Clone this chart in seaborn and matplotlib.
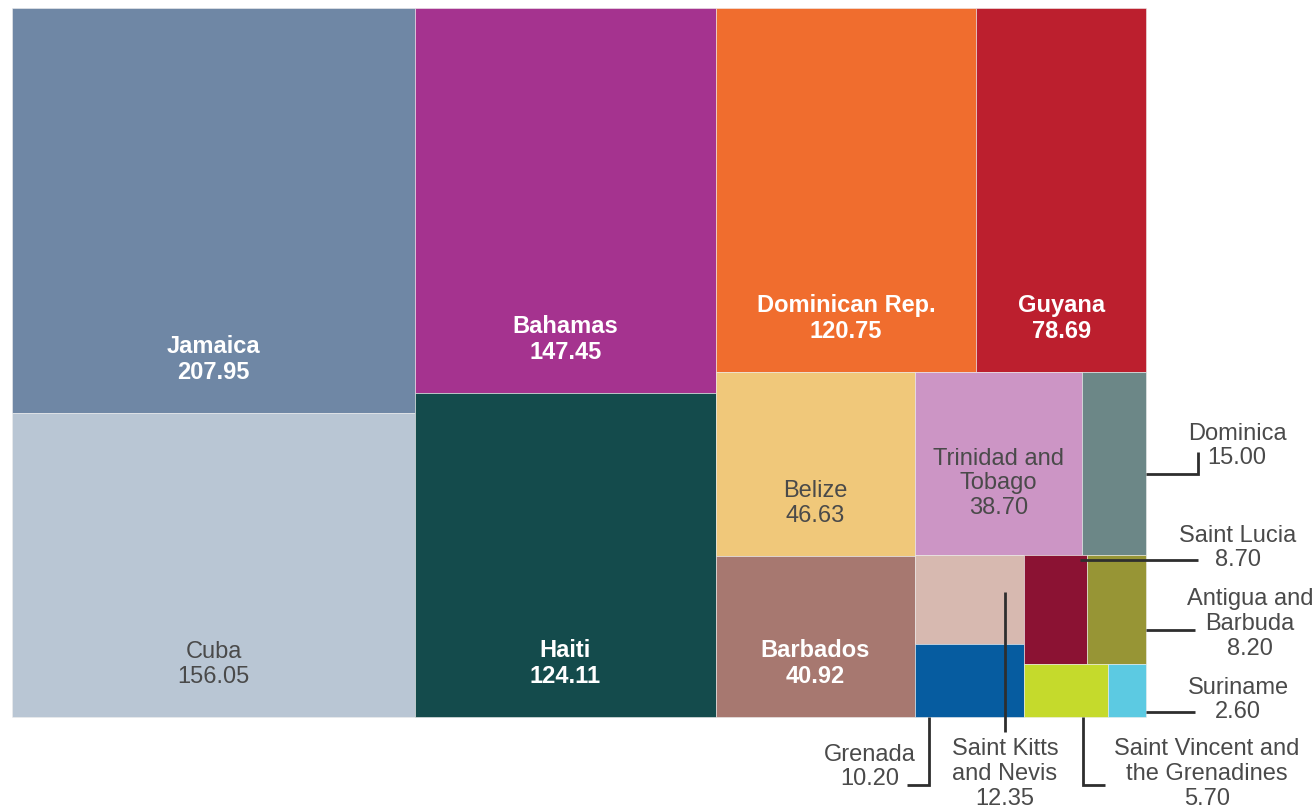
import matplotlib
matplotlib.use("Agg")
import matplotlib.pyplot as plt
from matplotlib.patches import Rectangle
import seaborn as sns

# Values per country (sorted largest first, as laid out in the treemap)
countries = ["Jamaica", "Cuba", "Bahamas", "Haiti", "Dominican Rep.", "Guyana",
             "Belize", "Barbados", "Trinidad and Tobago", "Dominica",
             "Saint Kitts and Nevis", "Grenada", "Saint Lucia", "Antigua and Barbuda",
             "Saint Vincent and the Grenadines", "Suriname"]
values = [207.95, 156.05, 147.45, 124.11, 120.75, 78.69,
          46.63, 40.92, 38.70, 15.00,
          12.35, 10.20, 8.70, 8.20,
          5.70, 2.60]
colors = ["#6f87a5", "#b9c6d4", "#a5338f", "#144b4c", "#f06d2e", "#bc1f2e",
          "#f0c87a", "#a77870", "#cc95c5", "#6c8787",
          "#d7b9b0", "#065ca0", "#8b1233", "#979535",
          "#c5da2c", "#5ccae2"]
wrapped = {
    "Trinidad and Tobago": "Trinidad and\nTobago",
    "Saint Kitts and Nevis": "Saint Kitts\nand Nevis",
    "Antigua and Barbuda": "Antigua and\nBarbuda",
    "Saint Vincent and the Grenadines": "Saint Vincent and\nthe Grenadines",
}
white_labels = ["Jamaica", "Bahamas", "Haiti", "Dominican Rep.", "Guyana", "Barbados"]
dark_labels = ["Cuba", "Belize", "Trinidad and Tobago"]

TEXT = "#4a4a4a"
LINE = "#2e2e2e"
FS = 17


def strip_layout(vals, x, y, w, h, per_strip=2):
    """Treemap: peel strips of `per_strip` cells off the short side of the
    remaining rectangle; the last strip is split along its long side."""
    rects = []
    i = 0
    while i < len(vals):
        grp = vals[i:i + per_strip]
        rest = sum(vals[i:])
        last = i + per_strip >= len(vals)
        if last:
            if w >= h:
                cx = x
                for v in grp:
                    cw = w * v / sum(grp)
                    rects.append((cx, y, cw, h))
                    cx += cw
            else:
                cy = y
                for v in grp:
                    ch = h * v / sum(grp)
                    rects.append((x, cy, w, ch))
                    cy += ch
        elif w >= h:
            sw = w * sum(grp) / rest
            cy = y
            for v in grp:
                ch = h * v / sum(grp)
                rects.append((x, cy, sw, ch))
                cy += ch
            x += sw
            w -= sw
        else:
            sh = h * sum(grp) / rest
            cx = x
            for v in grp:
                cw = w * v / sum(grp)
                rects.append((cx, y, cw, sh))
                cx += cw
            y += sh
            h -= sh
        i += per_strip
    return rects


sns.set_style("white")
plt.rcParams["font.family"] = ["Liberation Sans", "DejaVu Sans"]

fig = plt.figure(figsize=(13.16, 8.11), dpi=100)
ax = fig.add_axes([0, 0, 1, 1])
ax.set_xlim(0, 1316)
ax.set_ylim(811, 0)
ax.axis("off")

# plotting box of the treemap (pixels)
X0, Y0, W, H = 12, 8, 1134, 709
rects = dict(zip(countries, strip_layout(values, X0, Y0, W, H)))

for name, val, col in zip(countries, values, colors):
    rx, ry, rw, rh = rects[name]
    ax.add_patch(Rectangle((rx, ry), rw, rh, facecolor=col,
                           edgecolor="#eeeeee", linewidth=0.4))
    label = f"{wrapped.get(name, name)}\n{val:.2f}"
    # three-line label sits a bit higher in its cell
    lift = 36 if "\n" in wrapped.get(name, "") else 29
    if name in white_labels:
        ax.text(rx + rw / 2, ry + rh - lift, label, ha="center", va="bottom",
                color="white", fontsize=FS, fontweight="bold", linespacing=1.15)
    elif name in dark_labels:
        ax.text(rx + rw / 2, ry + rh - lift, label, ha="center", va="bottom",
                color=TEXT, fontsize=FS, linespacing=1.15)


def callout(pts, name, tx, ty):
    val = values[countries.index(name)]
    xs, ys = zip(*pts)
    ax.plot(xs, ys, color=LINE, lw=2, solid_joinstyle="miter",
            solid_capstyle="butt")
    ax.text(tx, ty, f"{wrapped.get(name, name)}\n{val:.2f}", ha="center",
            va="center", color=TEXT, fontsize=FS, linespacing=1.15)


R = X0 + W
B = Y0 + H

callout([(R, 474), (1198, 474), (1198, 452)], "Dominica", 1237, 446)
callout([(1080, 560), (1198, 560)], "Saint Lucia", 1238, 548)
callout([(R, 630), (1195, 630)], "Antigua and Barbuda", 1250, 624)
callout([(R, 712), (1195, 712)], "Suriname", 1238, 700)
callout([(929, B), (929, 785), (907, 785)], "Grenada", 870, 767)
callout([(1005, 592), (1005, 732)], "Saint Kitts and Nevis", 1005, 774)
callout([(1083, B), (1083, 785), (1105, 785)],
        "Saint Vincent and the Grenadines", 1207, 774)

fig.savefig("out.png", dpi=100)
